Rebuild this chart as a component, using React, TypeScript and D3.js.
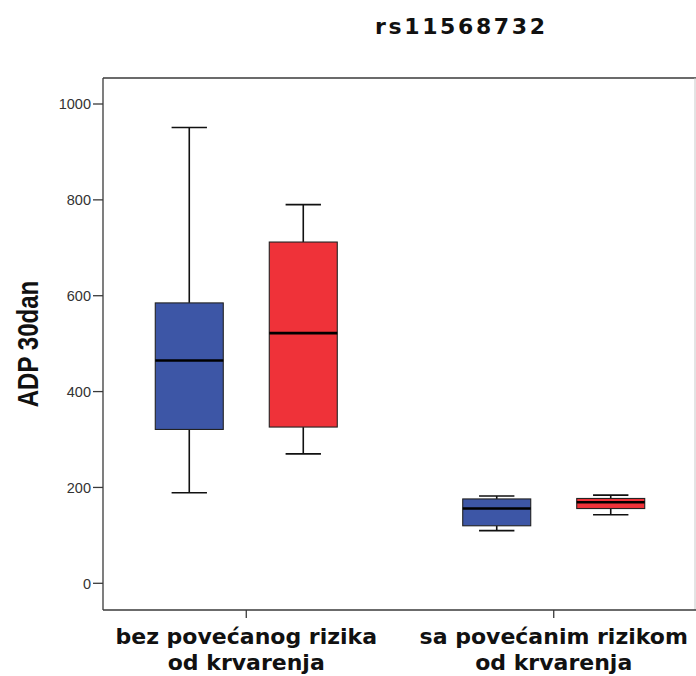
import React from 'react';
import * as d3 from 'd3';

// categories on the x axis (two lines each)
const groups = ['bez povećanog rizika', 'sa povećanim rizikom'];
const groupSub = ['od krvarenja', 'od krvarenja'];
const series = ['s1', 's2'];
const seriesColors = ['#3d56a6', '#ef3239'];

// five-number summaries, one entry per group
const blueMin = [189, 110];
const blueQ1 = [321, 120];
const blueMed = [465, 156];
const blueQ3 = [585, 176];
const blueMax = [951, 182];

const redMin = [270, 143];
const redQ1 = [326, 156];
const redMed = [522, 169];
const redQ3 = [712, 177];
const redMax = [790, 184];

const yTicks = [0, 200, 400, 600, 800, 1000];

const W = 696;
const H = 676;
const frame = { left: 103, right: 695, top: 78, bottom: 610 };
const boldFont = "'DejaVu Sans', Verdana, sans-serif";

export default function App() {
  const y = d3.scaleLinear().domain([0, 1000]).range([583.3, 104]);
  const x = d3.scalePoint<string>().domain(groups).range([103, 697]).padding(0.466);
  const inner = d3.scaleBand<string>().domain(series).range([-91, 91]).paddingInner(0.4035);
  const bw = inner.bandwidth();

  const stats = [
    { min: blueMin, q1: blueQ1, med: blueMed, q3: blueQ3, max: blueMax },
    { min: redMin, q1: redQ1, med: redMed, q3: redQ3, max: redMax },
  ];

  const boxes = groups.flatMap((g, gi) =>
    series.map((s, si) => ({
      key: `${g}-${s}`,
      cx: (x(g) ?? 0) + (inner(s) ?? 0) + bw / 2,
      x0: (x(g) ?? 0) + (inner(s) ?? 0),
      color: seriesColors[si],
      min: stats[si].min[gi],
      q1: stats[si].q1[gi],
      med: stats[si].med[gi],
      q3: stats[si].q3[gi],
      max: stats[si].max[gi],
    }))
  );

  const axisColor = '#3a3a3a';
  const capW = bw * 0.52;

  return (
    <svg width={W} height={H} style={{ position: 'absolute', left: 0, top: 0, background: '#fff' }}>
      <text x={460} y={34.3} textAnchor="middle" fontFamily={boldFont} fontWeight={700}
        fontSize={22} textLength={170} lengthAdjust="spacing" fill="#111">rs11568732</text>

      {/* frame */}
      <line x1={frame.left} x2={W} y1={frame.top} y2={frame.top} stroke={axisColor} strokeWidth={1.3} />
      <line x1={frame.right} x2={frame.right} y1={frame.top} y2={frame.bottom} stroke="#c8c8c8" strokeWidth={1} />
      <line x1={frame.left} x2={frame.left} y1={frame.top} y2={frame.bottom} stroke={axisColor} strokeWidth={1.3} />
      <line x1={frame.left} x2={W} y1={frame.bottom} y2={frame.bottom} stroke={axisColor} strokeWidth={1.3} />

      {/* y axis ticks */}
      {yTicks.map((t) => (
        <g key={t}>
          <line x1={frame.left - 10} x2={frame.left} y1={y(t)} y2={y(t)} stroke={axisColor} strokeWidth={1.3} />
          <text x={frame.left - 12} y={y(t)} dy="0.36em" textAnchor="end" fontFamily="'Liberation Sans', Arial, sans-serif"
            fontSize={14.5} fill="#333">{t}</text>
        </g>
      ))}

      <text transform={`translate(38,344) rotate(-90) scale(0.83,1)`} textAnchor="middle"
        fontFamily="'Liberation Sans', Arial, sans-serif" fontWeight={700} fontSize={29} fill="#111">ADP 30dan</text>

      {/* x axis ticks and labels */}
      {groups.map((g, i) => (
        <g key={g}>
          <line x1={x(g)} x2={x(g)} y1={frame.bottom} y2={frame.bottom + 8} stroke={axisColor} strokeWidth={1.3} />
          <text x={x(g)} y={643.5} textAnchor="middle" fontFamily={boldFont} fontWeight={700}
            fontSize={22} fill="#111">{g}</text>
          <text x={x(g)} y={669.5} textAnchor="middle" fontFamily={boldFont} fontWeight={700}
            fontSize={22} fill="#111">{groupSub[i]}</text>
        </g>
      ))}

      {/* boxes */}
      {boxes.map((b) => (
        <g key={b.key}>
          <line x1={b.cx} x2={b.cx} y1={y(b.max)} y2={y(b.q3)} stroke="#111" strokeWidth={1.6} />
          <line x1={b.cx} x2={b.cx} y1={y(b.q1)} y2={y(b.min)} stroke="#111" strokeWidth={1.6} />
          <line x1={b.cx - capW / 2} x2={b.cx + capW / 2} y1={y(b.max)} y2={y(b.max)} stroke="#111" strokeWidth={1.6} />
          <line x1={b.cx - capW / 2} x2={b.cx + capW / 2} y1={y(b.min)} y2={y(b.min)} stroke="#111" strokeWidth={1.6} />
          <rect x={b.x0} y={y(b.q3)} width={bw} height={y(b.q1) - y(b.q3)} fill={b.color} stroke="#222" strokeWidth={1.1} />
          <line x1={b.x0} x2={b.x0 + bw} y1={y(b.med)} y2={y(b.med)} stroke="#000" strokeWidth={2.6} />
        </g>
      ))}
    </svg>
  );
}
